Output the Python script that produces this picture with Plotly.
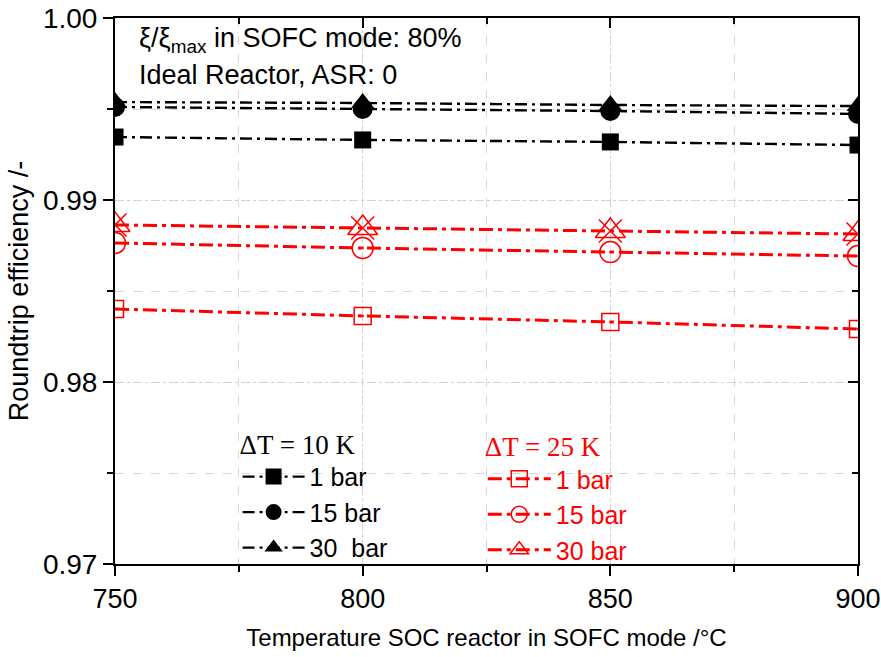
import plotly.graph_objects as go

temps = [750, 800, 850, 900]
dt10_1bar = [0.99346, 0.99330, 0.99319, 0.99302]
dt10_15bar = [0.99511, 0.99500, 0.99489, 0.99473]
dt10_30bar = [0.99538, 0.99533, 0.99522, 0.99516]
dt25_1bar = [0.98401, 0.98363, 0.98330, 0.98291]
dt25_15bar = [0.98764, 0.98736, 0.98714, 0.98692]
dt25_30bar = [0.98863, 0.98846, 0.98830, 0.98813]

x_ticks = [750, 800, 850, 900]
y_ticks = [0.97, 0.98, 0.99, 1.00]
y_tick_text = ["0.97", "0.98", "0.99", "1.00"]

BLACK = "black"
RED = "#ff0000"
FONT = "Liberation Sans, Arial, sans-serif"
SERIF = "Liberation Serif, Times New Roman, serif"
DASH_K = "12px,5px,3px,5px"
DASH_R = "14px,5px,4px,5px"

fig = go.Figure()

def add(y, name, color, symbol, size, legend, lw, dash, mline=None):
    fig.add_trace(go.Scatter(
        x=temps, y=y, name=name, mode="lines+markers", legend=legend,
        line=dict(color=color, width=lw, dash=dash),
        marker=dict(symbol=symbol, size=size, color=color,
                    line=dict(color=color, width=mline if mline else 0)),
    ))

add(dt10_1bar, "1 bar", BLACK, "square", 17, "legend", 2.4, DASH_K)
add(dt10_15bar, "15 bar", BLACK, "circle", 20, "legend", 2.4, DASH_K)
add(dt10_30bar, "30\u00a0 bar", BLACK, "triangle-up", 20, "legend", 2.4, DASH_K)
add(dt25_1bar, "1 bar", RED, "square-open-dot", 17, "legend2", 3, DASH_R, 1.5)
add(dt25_15bar, "15 bar", RED, "circle-open-dot", 21, "legend2", 3, DASH_R, 1.5)
add(dt25_30bar, "30 bar", RED, "triangle-up-open", 26, "legend2", 3, DASH_R, 1.5)
# X overlay on the 30 bar triangles
fig.add_trace(go.Scatter(
    x=temps, y=dt25_30bar, mode="markers", showlegend=False, hoverinfo="skip",
    marker=dict(symbol="x-thin-open", size=23, color=RED, line=dict(color=RED, width=1.5)),
))

common_minor = dict(tickwidth=2, tickcolor="black")

fig.update_layout(
    width=881, height=657,
    margin=dict(l=115, r=23, t=18, b=93),
    plot_bgcolor="white", paper_bgcolor="white",
    font=dict(family=FONT, color="black"),
    xaxis=dict(
        range=[750, 900], tickvals=x_ticks, ticktext=[str(v) for v in x_ticks],
        ticks="outside", ticklen=10, tickwidth=2, tickcolor="black",
        showline=True, linewidth=2, linecolor="black",
        showgrid=True, gridcolor="#d2d2d2", gridwidth=1, griddash="dot",
        tickfont=dict(size=27, family=FONT), ticklabeloverflow="allow",
        minor=dict(dtick=25, ticks="outside", ticklen=6, showgrid=True, gridcolor="#d8d8d8",
                   griddash="dash", gridwidth=1, **common_minor),
        title=dict(text="Temperature SOC reactor in SOFC mode /°C", font=dict(size=24), standoff=16),
        zeroline=False, automargin=False,
    ),
    yaxis=dict(
        range=[0.97, 1.00], tickvals=y_ticks, ticktext=y_tick_text,
        ticks="outside", ticklen=10, tickwidth=2, tickcolor="black",
        showline=True, linewidth=2, linecolor="black",
        showgrid=True, gridcolor="#d2d2d2", gridwidth=1, griddash="dot",
        tickfont=dict(size=28, family=FONT), ticklabeloverflow="allow",
        minor=dict(dtick=0.005, ticks="outside", ticklen=6, showgrid=True, gridcolor="#d8d8d8",
                   griddash="dash", gridwidth=1, **common_minor),
        title=dict(text="Roundtrip efficiency /-", font=dict(size=27), standoff=6),
        zeroline=False, automargin=False,
    ),
    xaxis2=dict(
        overlaying="x", side="top", range=[750, 900], tickvals=x_ticks,
        showticklabels=False, ticks="inside", ticklen=10, tickwidth=2, tickcolor="black",
        showline=True, linewidth=2, linecolor="black", showgrid=False, zeroline=False,
        minor=dict(dtick=25, ticks="inside", ticklen=6, showgrid=False, **common_minor),
        automargin=False,
    ),
    yaxis2=dict(
        overlaying="y", side="right", range=[0.97, 1.00], tickvals=y_ticks,
        showticklabels=False, ticks="inside", ticklen=10, tickwidth=2, tickcolor="black",
        showline=True, linewidth=2, linecolor="black", showgrid=False, zeroline=False,
        minor=dict(dtick=0.005, ticks="inside", ticklen=6, showgrid=False, **common_minor),
        automargin=False,
    ),
    legend=dict(
        x=0.165, y=0.266, xanchor="left", yanchor="top",
        bgcolor="rgba(0,0,0,0)", font=dict(size=25, family=FONT, color="black"),
        title=dict(text="\u0394T = 10 K", font=dict(size=27, family=SERIF, color="black")),
        itemwidth=62, tracegroupgap=0,
    ),
    legend2=dict(
        x=0.495, y=0.262, xanchor="left", yanchor="top",
        bgcolor="rgba(0,0,0,0)", font=dict(size=25, family=FONT, color=RED),
        title=dict(text="\u0394T = 25 K", font=dict(size=27, family=SERIF, color=RED)),
        itemwidth=63, tracegroupgap=0,
    ),
    showlegend=True,
)

# invisible trace to activate the mirrored axes
fig.add_trace(go.Scatter(x=[800], y=[0.985], xaxis="x2", yaxis="y2", mode="markers",
                         marker=dict(opacity=0), showlegend=False, hoverinfo="skip"))

fig.add_annotation(x=0.03, y=0.995, xref="paper", yref="paper", xanchor="left", yanchor="top",
                   text="\u03be/\u03be<sub>max</sub> in SOFC mode: 80%", showarrow=False,
                   font=dict(size=27, family=FONT, color="black"))
fig.add_annotation(x=0.03, y=0.927, xref="paper", yref="paper", xanchor="left", yanchor="top",
                   text="Ideal Reactor, ASR: 0", showarrow=False,
                   font=dict(size=27, family=FONT, color="black"))

fig.write_html("out.html")
